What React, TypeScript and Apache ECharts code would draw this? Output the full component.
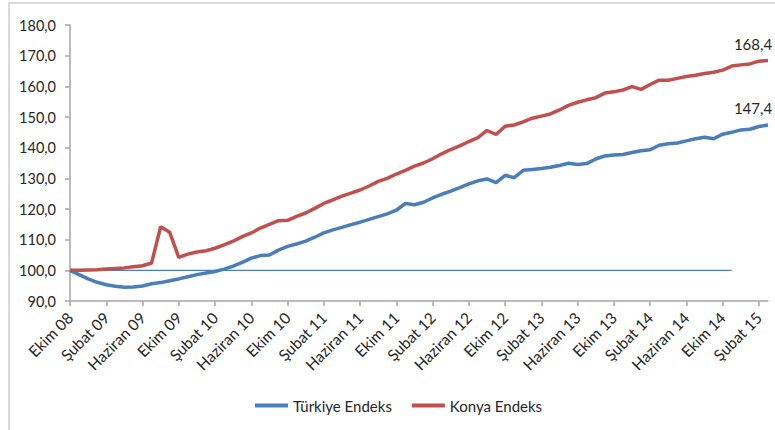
import React, { useEffect, useRef } from "react";
import * as echarts from "echarts";

const monthNames = ["Ocak", "Şubat", "Mart", "Nisan", "Mayıs", "Haziran", "Temmuz", "Ağustos", "Eylül", "Ekim", "Kasım", "Aralık"];
const startYear = 2008;
const startMonth = 9; // Ekim
const pointCount = 78; // Ekim 08 .. Mart 15

const categories: string[] = [];
for (let i = 0; i < pointCount; i++) {
  const m = (startMonth + i) % 12;
  const y = startYear + Math.floor((startMonth + i) / 12);
  categories.push(monthNames[m] + " " + String(y % 100).padStart(2, "0"));
}

const turkiyeEndeks = [
  100.0, 98.6, 97.2, 96.1, 95.3, 94.8, 94.5, 94.6, 94.9, 95.6,
  96.0, 96.6, 97.2, 97.9, 98.6, 99.1, 99.6, 100.4, 101.4, 102.6,
  104.0, 104.8, 105.0, 106.6, 107.8, 108.6, 109.5, 110.8, 112.2, 113.2,
  114.0, 114.9, 115.7, 116.6, 117.5, 118.4, 119.6, 121.8, 121.4, 122.2,
  123.6, 124.8, 125.8, 127.0, 128.2, 129.2, 129.8, 128.6, 131.0, 130.2,
  132.6, 132.9, 133.2, 133.6, 134.2, 134.9, 134.5, 134.8, 136.3, 137.3,
  137.6, 137.8, 138.4, 139.0, 139.3, 140.8, 141.3, 141.5, 142.2, 142.9,
  143.4, 142.9, 144.4, 145.0, 145.8, 146.0, 146.9, 147.4
];

const konyaEndeks = [
  100.0, 100.0, 100.1, 100.2, 100.4, 100.6, 100.8, 101.2, 101.5, 102.4,
  114.2, 112.4, 104.2, 105.3, 106.0, 106.4, 107.2, 108.3, 109.5, 111.0,
  112.2, 113.8, 115.0, 116.2, 116.3, 117.6, 118.7, 120.2, 121.8, 123.0,
  124.2, 125.2, 126.2, 127.5, 129.0, 130.0, 131.4, 132.6, 134.0, 135.0,
  136.4, 138.0, 139.4, 140.6, 142.0, 143.3, 145.6, 144.3, 147.0, 147.4,
  148.4, 149.6, 150.3, 151.0, 152.3, 153.8, 154.8, 155.6, 156.3, 157.8,
  158.2, 158.8, 159.9, 159.0, 160.6, 162.0, 162.0, 162.6, 163.2, 163.6,
  164.2, 164.6, 165.3, 166.6, 167.0, 167.3, 168.2, 168.4
];

const baseline = [
  100, 100, 100, 100, 100, 100, 100, 100, 100, 100,
  100, 100, 100, 100, 100, 100, 100, 100, 100, 100,
  100, 100, 100, 100, 100, 100, 100, 100, 100, 100,
  100, 100, 100, 100, 100, 100, 100, 100, 100, 100,
  100, 100, 100, 100, 100, 100, 100, 100, 100, 100,
  100, 100, 100, 100, 100, 100, 100, 100, 100, 100,
  100, 100, 100, 100, 100, 100, 100, 100, 100, 100,
  100, 100, 100, 100
];

const fmt = (v: number) => v.toFixed(1).replace(".", ",");
const FONT = "Lato, 'Open Sans', sans-serif";

function withEndLabel(values: number[]) {
  return values.map((v, i) =>
    i === values.length - 1
      ? {
          value: v,
          label: {
            show: true,
            position: "top",
            distance: 9,
            offset: [-15, 0],
            formatter: () => fmt(v),
            color: "#262626",
            fontSize: 15,
            fontFamily: FONT,
          },
        }
      : v
  );
}

export default function App() {
  const ref = useRef<HTMLDivElement>(null);
  useEffect(() => {
    if (!ref.current) return;
    const chart = echarts.init(ref.current, null, { renderer: "svg" });
    chart.setOption({
      animation: false,
      backgroundColor: "#ffffff",
      textStyle: { fontFamily: FONT },
      graphic: [
        {
          type: "rect",
          shape: { x: 9, y: 3, width: 800, height: 460 },
          style: { fill: "none", stroke: "#d0d0d0", lineWidth: 1.5 },
          silent: true,
        },
      ],
      grid: { left: 70, right: 7, top: 25, bottom: 129, containLabel: false },
      legend: {
        bottom: 12,
        left: 250,
        itemWidth: 33,
        itemHeight: 4,
        itemGap: 20,
        icon: "rect",
        textStyle: { fontSize: 15, color: "#262626", fontFamily: FONT },
        data: ["Türkiye Endeks", "Konya Endeks"],
      },
      xAxis: {
        type: "category",
        data: categories,
        boundaryGap: false,
        axisLine: { lineStyle: { color: "#a6a6a6", width: 1.5 } },
        axisTick: { interval: 3, length: 5, lineStyle: { color: "#a6a6a6", width: 1.5 } },
        axisLabel: {
          interval: 3,
          rotate: 45,
          margin: 14,
          fontSize: 15.5,
          color: "#262626",
          fontFamily: FONT,
        },
      },
      yAxis: {
        type: "value",
        min: 90,
        max: 180,
        interval: 10,
        axisLine: { show: true, lineStyle: { color: "#a6a6a6", width: 1.5 } },
        axisTick: { show: true, length: 5, lineStyle: { color: "#a6a6a6", width: 1.5 } },
        splitLine: { show: false },
        axisLabel: {
          margin: 14,
          fontSize: 14.5,
          color: "#262626",
          fontFamily: FONT,
          formatter: (v: number) => fmt(v),
        },
      },
      series: [
        {
          name: "Türkiye Endeks",
          type: "line",
          data: withEndLabel(turkiyeEndeks),
          symbol: "circle",
          symbolSize: 0,
          showSymbol: true,
          lineStyle: { color: "#4a7ebb", width: 3.5 },
          itemStyle: { color: "#4a7ebb" },
          z: 3,
        },
        {
          name: "Konya Endeks",
          type: "line",
          data: withEndLabel(konyaEndeks),
          symbol: "circle",
          symbolSize: 0,
          showSymbol: true,
          lineStyle: { color: "#c0504d", width: 3.5 },
          itemStyle: { color: "#c0504d" },
          z: 3,
        },
        {
          name: "100",
          type: "line",
          data: baseline,
          symbol: "none",
          lineStyle: { color: "#4a7ebb", width: 1.2 },
          itemStyle: { color: "#4a7ebb" },
          z: 2,
        },
      ],
    });
    return () => chart.dispose();
  }, []);
  return (
    <div
      ref={ref}
      style={{ position: "fixed", left: 0, top: 0, width: 775, height: 430 }}
    />
  );
}
